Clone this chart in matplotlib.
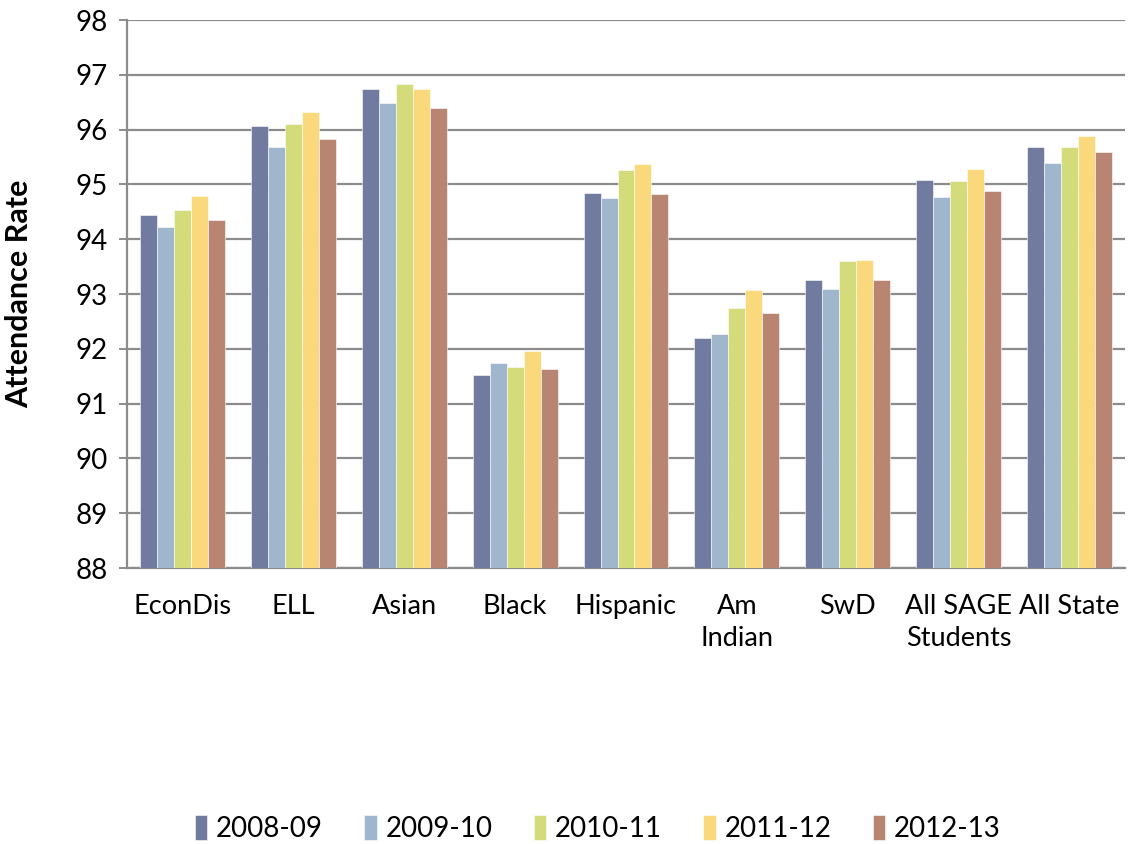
import matplotlib.pyplot as plt
import numpy as np

plt.rcParams['font.family'] = ['Lato', 'DejaVu Sans']

# Attendance rate by subgroup and school year
groups = ["EconDis", "ELL", "Asian", "Black", "Hispanic", "Am\nIndian", "SwD",
          "All SAGE\nStudents", "All State"]
years = ["2008-09", "2009-10", "2010-11", "2011-12", "2012-13"]

rate_0809 = [94.44, 96.07, 96.75, 91.52, 94.84, 92.20, 93.26, 95.08, 95.69]
rate_0910 = [94.23, 95.69, 96.49, 91.74, 94.76, 92.27, 93.09, 94.77, 95.39]
rate_1011 = [94.54, 96.11, 96.84, 91.67, 95.27, 92.75, 93.60, 95.07, 95.69]
rate_1112 = [94.79, 96.32, 96.75, 91.96, 95.38, 93.07, 93.62, 95.28, 95.89]
rate_1213 = [94.35, 95.82, 96.40, 91.63, 94.83, 92.66, 93.25, 94.88, 95.59]

series = [rate_0809, rate_0910, rate_1011, rate_1112, rate_1213]
colors = ["#717ba0", "#a0b6cd", "#d4db7b", "#f9d97c", "#b78571"]

fig = plt.figure(figsize=(11.32, 8.44), dpi=100)
ax = fig.add_axes([0.1122, 0.327, 0.8816, 0.6493])

x = np.arange(len(groups))
width = 0.153
for i, (vals, col, lab) in enumerate(zip(series, colors, years)):
    offs = (i - 2) * width
    ax.bar(x + offs, np.array(vals) - 88, width, bottom=88, color=col,
           edgecolor="white", linewidth=0.4, label=lab, zorder=3)

ax.set_ylim(88, 98)
ax.set_xlim(-0.5, len(groups) - 0.5)
ax.set_yticks(range(88, 99))
ax.yaxis.grid(True, color="#8c8c8c", linewidth=1.6, zorder=0)
ax.set_axisbelow(True)

for side in ["top", "right"]:
    ax.spines[side].set_visible(False)
for side in ["left", "bottom"]:
    ax.spines[side].set_color("#8c8c8c")
    ax.spines[side].set_linewidth(1.6)

ax.tick_params(axis="y", length=6, width=1.4, color="#8c8c8c", pad=8,
               labelsize=20)
ax.tick_params(axis="x", length=0, pad=19, labelsize=19.5)
ax.set_xticks(x)
ax.set_xticklabels(groups, linespacing=1.35, va="top")

ax.set_ylabel("Attendance Rate", fontsize=22, fontweight="bold")
ax.yaxis.set_label_coords(-0.094, 0.5)

fig.legend(loc="center", bbox_to_anchor=(0.528, 0.018), ncol=5, frameon=False,
           fontsize=20, handlelength=0.45, handleheight=1.0, handletextpad=0.3,
           columnspacing=1.5)

fig.savefig("out.png", dpi=100)
